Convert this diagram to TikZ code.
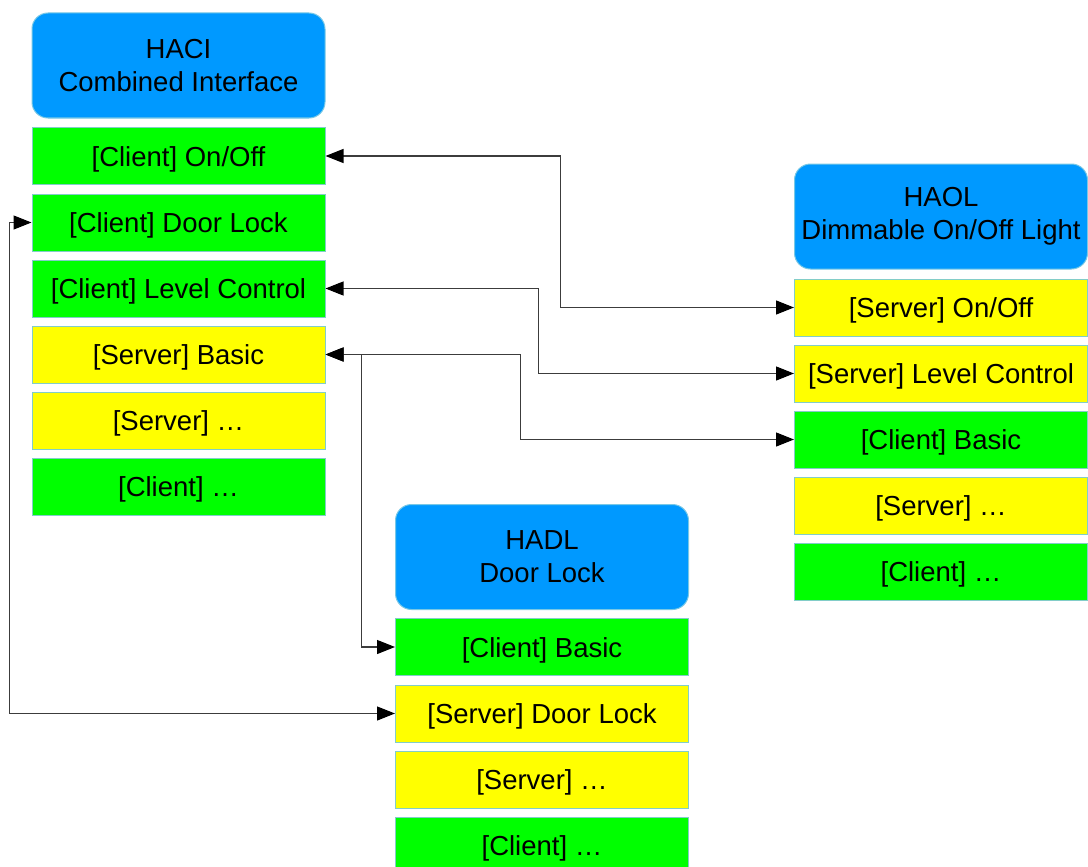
\documentclass[tikz,border=0pt]{standalone}
\usepackage{fontspec}
\setmainfont{Liberation Sans}
\usetikzlibrary{arrows.meta}
\definecolor{hdrblue}{RGB}{0,153,255}
\definecolor{hdrline}{RGB}{120,200,230}
\definecolor{cgreen}{RGB}{0,255,0}
\definecolor{syellow}{RGB}{255,255,0}
\definecolor{boxline}{RGB}{130,205,200}
\definecolor{connline}{RGB}{60,60,60}
\tikzset{
  every node/.style={font=\fontsize{27.5}{33}\selectfont, text=black, inner sep=0pt, align=center},
  hdr/.style={fill=hdrblue, draw=hdrline, line width=1pt, rounded corners=16pt, minimum width=293pt, minimum height=105pt},
  cell/.style={draw=boxline, line width=1pt, minimum width=293pt, minimum height=57pt, text height=20pt, text depth=0pt},
  cli/.style={cell, fill=cgreen},
  srv/.style={cell, fill=syellow},
  conn/.style={draw=connline, line width=1.1pt, {Triangle[length=18pt,width=14pt,black,fill=black]}-{Triangle[length=18pt,width=14pt,black,fill=black]}}
}
\begin{document}
\begin{tikzpicture}[x=1pt,y=-1pt]
\clip (0,0) rectangle (1088,867);
\useasboundingbox (0,0) rectangle (1088,867);
% HACI
\node[hdr] (haci) at (178.5,65.5) {HACI\\Combined Interface};
\node[cli] (c1) at (178.5,156) {[Client] On/Off};
\node[cli] (c2) at (178.5,222.5) {[Client] Door Lock};
\node[cli] (c3) at (178.5,288.5) {[Client] Level Control};
\node[srv] (c4) at (178.5,354.5) {[Server] Basic};
\node[srv] (c5) at (178.5,420.5) {[Server] \dots};
\node[cli] (c6) at (178.5,486.5) {[Client] \dots};
% HAOL
\node[hdr] (haol) at (941,216.5) {HAOL\\Dimmable On/Off Light};
\node[srv] (l1) at (941,307.5) {[Server] On/Off};
\node[srv] (l2) at (941,373.5) {[Server] Level Control};
\node[cli] (l3) at (941,439.5) {[Client] Basic};
\node[srv] (l4) at (941,505.5) {[Server] \dots};
\node[cli] (l5) at (941,571.5) {[Client] \dots};
% HADL
\node[hdr] (hadl) at (542,557) {HADL\\Door Lock};
\node[cli] (d1) at (542,647) {[Client] Basic};
\node[srv] (d2) at (542,713.5) {[Server] Door Lock};
\node[srv] (d3) at (542,779.5) {[Server] \dots};
\node[cli] (d4) at (542,845.5) {[Client] \dots};
% connectors
\draw[conn] (c1.east) -- ([xshift=235pt]c1.east) |- (l1.west);
\draw[conn] (c3.east) -- ([xshift=213pt]c3.east) |- (l2.west);
\draw[conn] (c4.east) -- ([xshift=195pt]c4.east) |- (l3.west);
\draw[conn] (c4.east) -- ([xshift=36pt]c4.east) |- (d1.west);
\draw[conn] (c2.west) -- ([xshift=-22pt]c2.west) |- (d2.west);
\end{tikzpicture}
\end{document}
